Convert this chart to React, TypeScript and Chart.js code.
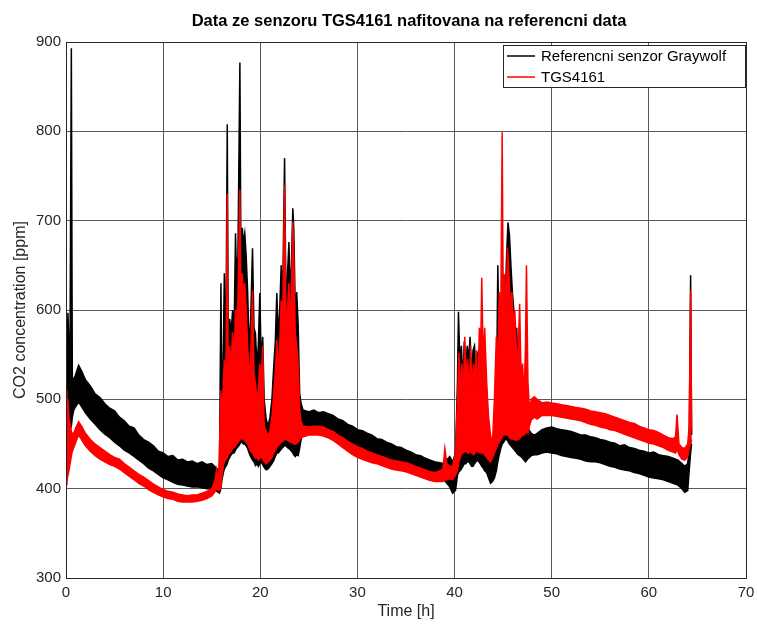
import React, { useEffect, useRef } from "react";
import { Chart, registerables } from "chart.js";
Chart.register(...registerables);

const titleText = "Data ze senzoru TGS4161 nafitovana na referencni data";
const xTitle = "Time [h]";
const yTitle = "CO2 concentration [ppm]";
const seriesNames = ["Referencni senzor Graywolf", "TGS4161"];
const xTicks = [0, 10, 20, 30, 40, 50, 60, 70];
const yTicks = [300, 400, 500, 600, 700, 800, 900];

// Reference sensor (Graywolf): [time h, upper edge ppm, lower edge ppm] of the noisy trace
const refEnvelope: number[][] = [
  [0, 500, 410], [0.1, 540, 430], [0.2, 597, 440], [0.3, 560, 455], [0.4, 520, 465], [0.55, 893, 470], [0.65, 525, 480],
  [0.8, 522, 488], [1.0, 528, 492], [1.3, 538, 497], [1.6, 532, 492], [2.0, 522, 485], [2.5, 515, 478], [3.0, 506, 472],
  [3.5, 502, 466], [4.0, 495, 461], [4.5, 490, 457], [5.0, 487, 452], [5.5, 480, 448], [6.0, 476, 443], [6.5, 470, 440],
  [7.0, 468, 436], [7.5, 460, 432], [8.0, 455, 428], [8.5, 452, 423], [9.0, 448, 420], [9.5, 442, 416], [10.0, 440, 412],
  [10.5, 436, 410], [11.0, 437, 407], [11.5, 432, 405], [12.0, 433, 404], [12.5, 430, 403], [13.0, 431, 402], [13.5, 428, 402],
  [14.0, 430, 401], [14.5, 427, 400], [15.0, 428, 400], [15.4, 424, 398], [15.8, 420, 395],
  [15.95, 630, 400], [16.05, 480, 410], [16.2, 560, 418], [16.3, 641, 422], [16.45, 540, 425], [16.6, 808, 428], [16.7, 560, 432],
  [16.85, 590, 435], [17.0, 575, 438], [17.15, 600, 440], [17.3, 570, 440], [17.45, 686, 443], [17.55, 640, 445], [17.7, 660, 447],
  [17.9, 877, 450], [18.0, 670, 452], [18.15, 692, 452], [18.25, 675, 450], [18.4, 686, 450], [18.55, 660, 448], [18.7, 620, 445],
  [18.85, 560, 440], [19.0, 585, 436], [19.2, 669, 432], [19.35, 580, 430], [19.5, 574, 426], [19.65, 540, 428], [19.8, 560, 425],
  [19.95, 619, 428], [20.1, 540, 430], [20.25, 570, 427], [20.4, 500, 424], [20.6, 478, 421], [20.8, 470, 422], [21.0, 480, 425],
  [21.2, 500, 428], [21.4, 540, 432], [21.55, 565, 436], [21.7, 619, 440], [21.85, 570, 440], [22.0, 600, 442], [22.15, 650, 444],
  [22.3, 610, 446], [22.5, 770, 448], [22.65, 600, 448], [22.8, 640, 446], [22.95, 676, 445], [23.05, 620, 444], [23.2, 650, 442],
  [23.35, 714, 440], [23.45, 690, 438], [23.6, 600, 436], [23.75, 620, 438], [23.9, 583, 437], [24.05, 507, 445], [24.2, 495, 455],
  [24.4, 488, 462], [24.7, 487, 466], [25.0, 486, 470], [25.5, 488, 469], [26.0, 485, 468], [26.5, 486, 467], [27.0, 484, 466],
  [27.5, 482, 462], [28.0, 478, 458], [28.5, 476, 454], [29.0, 472, 450], [29.5, 470, 447], [30.0, 466, 443], [30.5, 465, 442],
  [31.0, 462, 440], [31.5, 460, 437], [32.0, 456, 435], [32.5, 455, 432], [33.0, 452, 430], [33.5, 450, 428], [34.0, 447, 427],
  [34.5, 446, 425], [35.0, 443, 424], [35.5, 441, 421], [36.0, 438, 420], [36.5, 437, 418], [37.0, 434, 416], [37.5, 432, 414],
  [38.0, 430, 413], [38.5, 429, 411], [38.9, 428, 410], [39.2, 432, 406], [39.5, 436, 402], [39.8, 430, 395], [40.1, 440, 398],
  [40.3, 520, 415], [40.4, 598, 418], [40.55, 540, 420], [40.7, 560, 422], [40.85, 520, 425], [41.0, 565, 428], [41.15, 530, 428],
  [41.3, 560, 430], [41.45, 545, 430], [41.6, 570, 428], [41.75, 520, 425], [41.9, 555, 425], [42.05, 560, 428], [42.2, 530, 430],
  [42.35, 550, 432], [42.5, 555, 430], [42.65, 500, 428], [42.8, 520, 425], [42.95, 540, 423], [43.1, 500, 420], [43.3, 480, 418],
  [43.5, 455, 412], [43.7, 440, 406], [43.9, 430, 408], [44.1, 450, 412], [44.3, 480, 420], [44.45, 650, 430], [44.6, 560, 438],
  [44.75, 600, 445], [44.9, 580, 450], [45.05, 640, 452], [45.2, 600, 455], [45.35, 660, 455], [45.5, 698, 453], [45.65, 684, 450],
  [45.8, 650, 448], [45.95, 620, 446], [46.1, 600, 444], [46.25, 560, 442], [46.4, 580, 440], [46.55, 520, 438], [46.7, 540, 437],
  [46.85, 500, 436], [47.0, 490, 434], [47.15, 480, 432], [47.3, 485, 430], [47.5, 470, 433], [47.7, 465, 435], [47.9, 462, 437],
  [48.2, 460, 438], [48.5, 462, 438], [49.0, 466, 440], [49.5, 468, 441], [50.0, 469, 440], [50.5, 467, 439], [51.0, 466, 437],
  [51.5, 465, 436], [52.0, 464, 435], [52.5, 462, 434], [53.0, 460, 433], [53.5, 460, 431], [54.0, 458, 430], [54.5, 457, 430],
  [55.0, 455, 429], [55.5, 454, 427], [56.0, 452, 425], [56.5, 451, 424], [57.0, 448, 422], [57.5, 449, 421], [58.0, 446, 420],
  [58.5, 445, 418], [59.0, 443, 417], [59.5, 442, 415], [60.0, 440, 413], [60.5, 441, 412], [61.0, 438, 411], [61.5, 437, 410],
  [62.0, 436, 408], [62.5, 434, 406], [63.0, 432, 404], [63.4, 428, 400], [63.7, 425, 396], [64.0, 428, 398], [64.15, 445, 420],
  [64.3, 639, 440], [64.4, 460, 450],
];

// TGS4161 fitted to the reference: [time h, upper edge ppm, lower edge ppm]
const tgsEnvelope: number[][] = [
  [0, 510, 405], [0.1, 470, 410], [0.2, 500, 415], [0.3, 480, 420], [0.45, 470, 430], [0.6, 462, 440], [0.8, 462, 446],
  [1.0, 468, 452], [1.3, 475, 460], [1.6, 470, 455], [2.0, 462, 448], [2.5, 455, 442], [3.0, 450, 437], [3.5, 446, 433],
  [4.0, 442, 430], [4.5, 438, 427], [5.0, 435, 425], [5.5, 433, 422], [6.0, 428, 418], [6.5, 424, 414], [7.0, 420, 410],
  [7.5, 416, 406], [8.0, 413, 403], [8.5, 409, 399], [9.0, 405, 396], [9.5, 402, 393], [10.0, 399, 391], [10.5, 397, 389],
  [11.0, 396, 388], [11.5, 394, 386], [12.0, 393, 385], [12.5, 392, 385], [13.0, 393, 385], [13.5, 393, 386], [14.0, 395, 387],
  [14.5, 397, 389], [15.0, 400, 392], [15.3, 408, 396], [15.5, 421, 400], [15.7, 405, 398],
  [15.95, 510, 400], [16.05, 470, 415], [16.2, 520, 425], [16.3, 544, 430], [16.45, 500, 432], [16.6, 730, 435], [16.7, 520, 438],
  [16.85, 560, 440], [17.0, 540, 442], [17.15, 575, 445], [17.3, 545, 446], [17.45, 600, 448], [17.55, 590, 450], [17.7, 610, 452],
  [17.9, 735, 455], [18.0, 620, 456], [18.15, 641, 456], [18.25, 615, 455], [18.4, 630, 454], [18.55, 600, 452], [18.7, 560, 450],
  [18.85, 530, 446], [19.0, 540, 442], [19.2, 622, 440], [19.35, 530, 437], [19.5, 518, 434], [19.65, 500, 435], [19.8, 510, 432],
  [19.95, 540, 434], [20.1, 520, 436], [20.25, 560, 433], [20.4, 470, 430], [20.6, 465, 428], [20.8, 458, 430], [21.0, 465, 432],
  [21.2, 480, 435], [21.4, 510, 440], [21.55, 530, 443], [21.7, 567, 446], [21.85, 530, 448], [22.0, 560, 450], [22.15, 611, 452],
  [22.3, 580, 453], [22.5, 740, 455], [22.65, 580, 455], [22.8, 600, 454], [22.95, 630, 453], [23.05, 590, 452], [23.2, 620, 452],
  [23.35, 699, 451], [23.45, 660, 450], [23.6, 574, 450], [23.75, 560, 451], [23.9, 540, 452], [24.05, 490, 455], [24.2, 475, 457],
  [24.4, 470, 458], [24.7, 470, 459], [25.0, 469, 460], [25.5, 470, 460], [26.0, 470, 460], [26.5, 469, 459], [27.0, 466, 457],
  [27.5, 464, 454], [28.0, 460, 450], [28.5, 457, 446], [29.0, 453, 442], [29.5, 450, 438], [30.0, 447, 435], [30.5, 445, 433],
  [31.0, 442, 431], [31.5, 440, 429], [32.0, 438, 428], [32.5, 436, 426], [33.0, 434, 424], [33.5, 432, 422], [34.0, 431, 421],
  [34.5, 430, 420], [35.0, 429, 419], [35.5, 427, 417], [36.0, 425, 415], [36.5, 423, 413], [37.0, 421, 411], [37.5, 419, 409],
  [38.0, 418, 408], [38.5, 420, 408], [38.8, 422, 408], [39.0, 445, 410], [39.2, 428, 410], [39.5, 425, 411], [39.8, 425, 410],
  [40.1, 440, 415], [40.3, 500, 420], [40.45, 552, 430], [40.6, 500, 435], [40.75, 540, 440], [40.9, 510, 440], [41.05, 570, 442],
  [41.2, 520, 442], [41.35, 545, 440], [41.5, 500, 440], [41.65, 560, 442], [41.8, 510, 440], [41.95, 540, 438], [42.1, 520, 440],
  [42.25, 555, 442], [42.4, 500, 442], [42.55, 580, 440], [42.7, 560, 440], [42.8, 636, 440], [42.95, 540, 440], [43.1, 580, 438],
  [43.3, 520, 435], [43.5, 480, 432], [43.7, 460, 430], [43.9, 450, 435], [44.1, 500, 440], [44.3, 570, 445], [44.45, 540, 450],
  [44.6, 620, 452], [44.75, 580, 455], [44.9, 799, 458], [45.0, 620, 460], [45.15, 640, 460], [45.3, 600, 460], [45.45, 670, 460],
  [45.6, 640, 458], [45.75, 600, 456], [45.9, 620, 456], [46.05, 580, 455], [46.2, 600, 455], [46.35, 560, 454], [46.5, 540, 455],
  [46.7, 607, 456], [46.85, 520, 458], [47.0, 540, 460], [47.15, 500, 460], [47.3, 560, 462], [47.4, 650, 465], [47.55, 520, 462],
  [47.7, 490, 470], [47.9, 500, 477], [48.2, 503, 480], [48.5, 500, 478], [49.0, 496, 482], [49.5, 497, 482], [50.0, 496, 482],
  [50.5, 495, 481], [51.0, 494, 480], [51.5, 493, 479], [52.0, 492, 478], [52.5, 491, 477], [53.0, 490, 476], [53.5, 489, 474],
  [54.0, 487, 472], [54.5, 486, 471], [55.0, 485, 469], [55.5, 484, 468], [56.0, 482, 466], [56.5, 480, 465], [57.0, 478, 463],
  [57.5, 476, 461], [58.0, 474, 459], [58.5, 473, 457], [59.0, 470, 455], [59.5, 468, 453], [60.0, 466, 451], [60.5, 465, 450],
  [61.0, 463, 448], [61.5, 460, 446], [62.0, 457, 443], [62.5, 456, 441], [62.75, 458, 440], [62.9, 483, 445], [63.1, 450, 438],
  [63.4, 446, 433], [63.7, 445, 432], [64.0, 450, 436], [64.15, 470, 445], [64.3, 622, 450], [64.4, 465, 455],
];

const FONT = '"Liberation Sans", Arial, Helvetica, sans-serif';
const AXIS_COLOR = "#262626";
const GRID_COLOR = "#5a5a5a";

const edge = (rows: number[][], col: number) => rows.map((r) => ({ x: r[0], y: r[col] }));

const decorPlugin = {
  id: "decor",
  afterDraw(chart: any) {
    const { ctx, chartArea } = chart;
    const { left, right, top, bottom } = chartArea;
    ctx.save();
    ctx.strokeStyle = AXIS_COLOR;
    ctx.lineWidth = 1;
    ctx.strokeRect(Math.round(left) + 0.5, Math.round(top) + 0.5, Math.round(right - left), Math.round(bottom - top));
    ctx.fillStyle = "#000";
    ctx.font = `bold 16.5px ${FONT}`;
    ctx.textAlign = "center";
    ctx.textBaseline = "middle";
    ctx.fillText(titleText, (left + right) / 2 + 3, 21);
    const bx = 503, by = 45, bw = 242, bh = 42;
    ctx.fillStyle = "#fff";
    ctx.fillRect(bx, by, bw, bh);
    ctx.strokeStyle = AXIS_COLOR;
    ctx.strokeRect(bx + 0.5, by + 0.5, bw, bh);
    const colors = ["#000000", "#ff0000"];
    seriesNames.forEach((name, i) => {
      const y = by + 11 + i * 21;
      ctx.strokeStyle = colors[i];
      ctx.lineWidth = 1.5;
      ctx.beginPath();
      ctx.moveTo(bx + 4, y);
      ctx.lineTo(bx + 32, y);
      ctx.stroke();
      ctx.fillStyle = "#000";
      ctx.font = `15px ${FONT}`;
      ctx.textAlign = "left";
      ctx.textBaseline = "middle";
      ctx.fillText(name, bx + 38, y + 1);
    });
    ctx.restore();
  },
};

const lineDs = (label: string, data: any[], color: string, fill: any, order: number) => ({
  label,
  data,
  borderColor: color,
  backgroundColor: color,
  borderWidth: 1.5,
  pointRadius: 0,
  fill,
  order,
});

export default function App() {
  const canvasRef = useRef<HTMLCanvasElement | null>(null);

  useEffect(() => {
    if (!canvasRef.current) return;
    const chart = new Chart(canvasRef.current, {
      type: "line",
      data: {
        datasets: [
          lineDs(seriesNames[0] + " low", edge(refEnvelope, 2), "#000000", false, 2),
          lineDs(seriesNames[0], edge(refEnvelope, 1), "#000000", { target: 0 }, 2),
          lineDs(seriesNames[1] + " low", edge(tgsEnvelope, 2), "#ff0000", false, 1),
          lineDs(seriesNames[1], edge(tgsEnvelope, 1), "#ff0000", { target: 2 }, 1),
        ],
      },
      options: {
        responsive: false,
        animation: false,
        devicePixelRatio: 1,
        parsing: false,
        layout: { padding: { top: 42, right: 11, left: 0, bottom: 0 } },
        plugins: {
          legend: { display: false },
          title: { display: false },
          tooltip: { enabled: false },
        },
        scales: {
          x: {
            type: "linear",
            min: xTicks[0],
            max: xTicks[xTicks.length - 1],
            afterBuildTicks: (s: any) => { s.ticks = xTicks.map((v) => ({ value: v })); },
            afterFit: (s: any) => { s.height = 46; s.paddingLeft = 0; s.paddingRight = 0; },
            ticks: { font: { family: FONT, size: 15 }, color: AXIS_COLOR, padding: 6, maxRotation: 0 },
            grid: { color: GRID_COLOR, drawTicks: false, lineWidth: 1 },
            border: { display: true, color: AXIS_COLOR },
            title: { display: true, text: xTitle, font: { family: FONT, size: 16 }, color: AXIS_COLOR, padding: { top: 0, bottom: 3 } },
          },
          y: {
            type: "linear",
            min: yTicks[0],
            max: yTicks[yTicks.length - 1],
            afterBuildTicks: (s: any) => { s.ticks = yTicks.map((v) => ({ value: v })); },
            afterFit: (s: any) => { s.width = 66; s.paddingTop = 0; s.paddingBottom = 0; },
            ticks: { font: { family: FONT, size: 15 }, color: AXIS_COLOR, padding: 5 },
            grid: { color: GRID_COLOR, drawTicks: false, lineWidth: 1 },
            border: { display: true, color: AXIS_COLOR },
            title: { display: true, text: yTitle, font: { family: FONT, size: 16 }, color: AXIS_COLOR, padding: { top: 11, bottom: 0 } },
          },
        },
      },
      plugins: [decorPlugin],
    });
    return () => chart.destroy();
  }, []);

  return (
    <div style={{ position: "fixed", left: 0, top: 0, width: 757, height: 624, background: "#fff" }}>
      <canvas ref={canvasRef} width={757} height={624} style={{ display: "block" }} />
    </div>
  );
}
